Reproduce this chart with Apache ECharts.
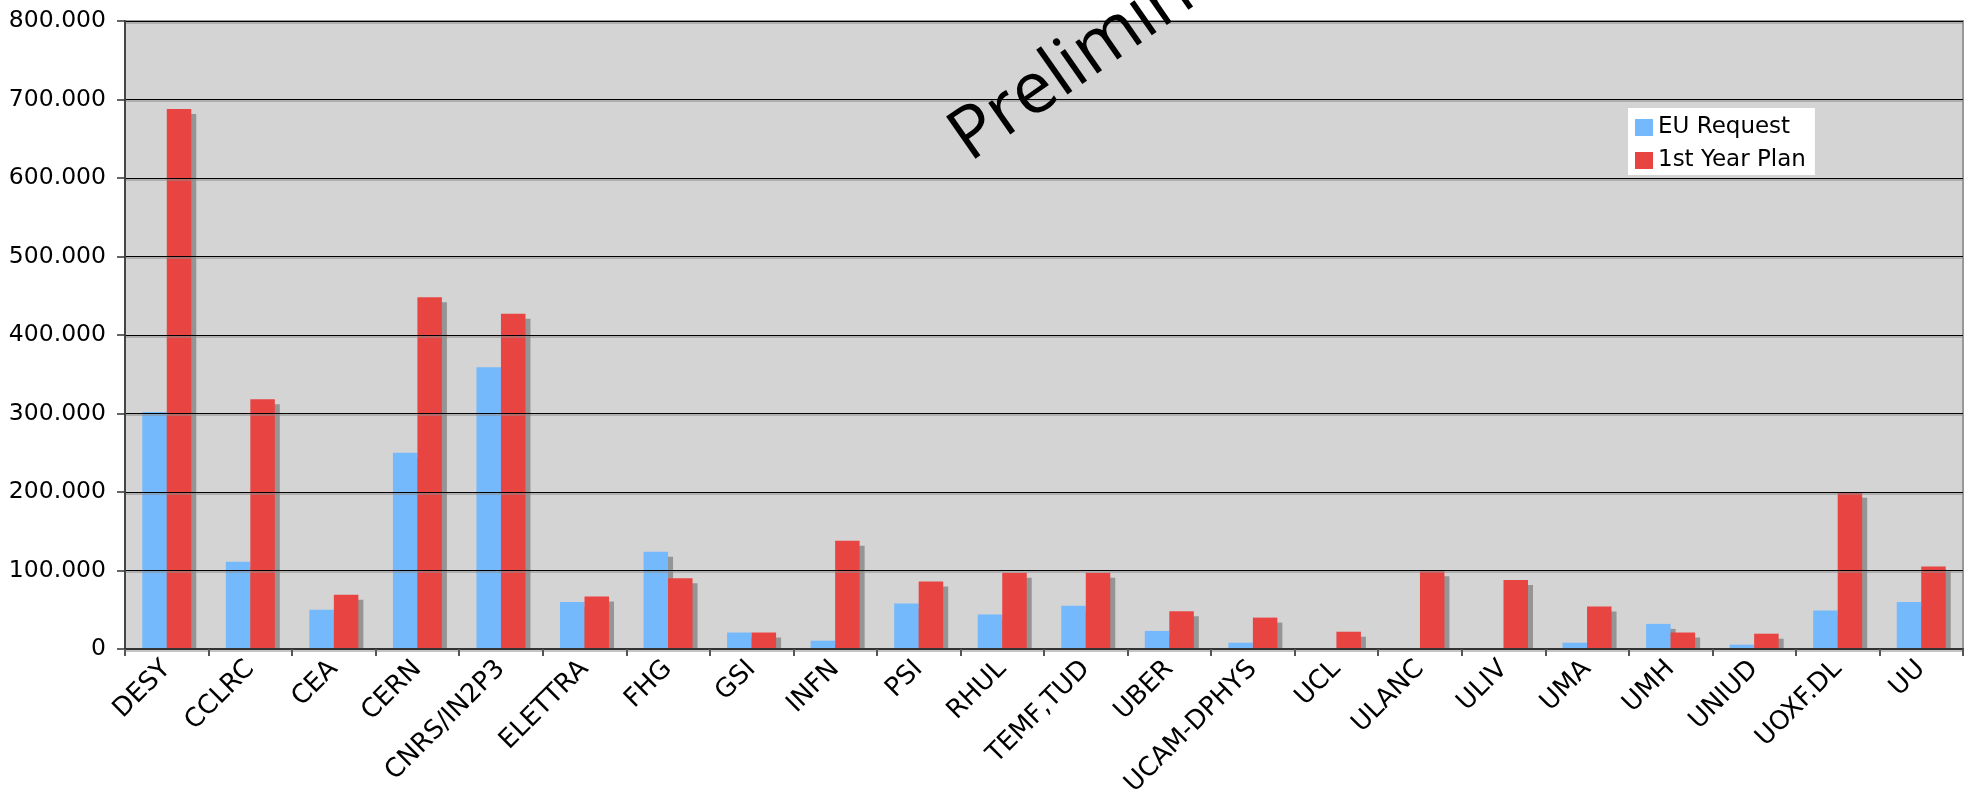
<!DOCTYPE html>
<html>
<head>
<meta charset="utf-8">
<script src="https://cdn.jsdelivr.net/npm/echarts@6/dist/echarts.min.js"></script>
<style>html,body{margin:0;padding:0;background:#fff;}#c{width:1974px;height:793px;}</style>
</head>
<body>
<div id="c"></div>
<script>
const categories = ['DESY','CCLRC','CEA','CERN','CNRS/IN2P3','ELETTRA','FHG','GSI','INFN','PSI','RHUL','TEMF,TUD','UBER','UCAM-DPHYS','UCL','ULANC','ULIV','UMA','UMH','UNIUD','UOXF.DL','UU'];
const euRequest = [302000,111000,50000,250000,359000,60000,124000,21000,10600,58000,44000,55000,23000,8000,0,1300,0,8000,32000,5500,49000,60000];
const firstYearPlan = [688000,318000,69000,448000,427000,67000,90000,21000,138000,86000,97000,97000,48000,40000,22000,99000,88000,54000,21000,19500,199000,105000];
const seriesNames = ['EU Request','1st Year Plan'];
const yTicks = {min:0, max:800000, interval:100000};

function fmt(v){
  if (v === 0) return '0';
  const s = String(Math.round(v));
  return s.replace(/\B(?=(\d{3})+(?!\d))/g, '.');
}

const chart = echarts.init(document.getElementById('c'), null, {renderer:'canvas'});
const font = 'DejaVu Sans';
const barStyle = (color) => ({
  color: color,
  shadowColor: '#959595',
  shadowBlur: 0,
  shadowOffsetX: 5,
  shadowOffsetY: 5
});
chart.setOption({
  animation: false,
  backgroundColor: '#ffffff',
  grid: {
    left: 125, right: 11, top: 21, bottom: 144,
    show: true, backgroundColor: '#d4d4d4', borderColor: '#999999', borderWidth: 2,
    containLabel: false,
    outerBoundsMode: 'none'
  },
  legend: {
    data: seriesNames,
    orient: 'vertical',
    left: 1628, top: 108,
    backgroundColor: '#ffffff',
    padding: [8, 9, 3, 7],
    itemWidth: 18, itemHeight: 17, itemGap: 10,
    icon: 'rect',
    itemStyle: {shadowBlur: 0, shadowOffsetX: 0, shadowOffsetY: 0, shadowColor: 'transparent'},
    textStyle: {fontFamily: font, fontSize: 23, color: '#000'}
  },
  xAxis: {
    type: 'category',
    data: categories,
    z: 4,
    axisLine: {show: true, lineStyle: {color: '#333333', width: 2}},
    axisTick: {show: true, alignWithLabel: false, length: 7, lineStyle: {color: '#555555', width: 2}},
    axisLabel: {interval: 0, rotate: 45, margin: 16, color: '#000', fontFamily: font, fontSize: 26},
    splitLine: {show: false}
  },
  yAxis: {
    type: 'value',
    min: yTicks.min, max: yTicks.max, interval: yTicks.interval,
    z: 4,
    axisLine: {show: true, lineStyle: {color: '#444444', width: 2}},
    axisTick: {show: true, length: 8, lineStyle: {color: '#333333', width: 1.5}},
    axisLabel: {margin: 19, color: '#000', fontFamily: font, fontSize: 23.5, formatter: fmt},
    splitLine: {show: true, lineStyle: {color: '#000000', width: 1.2, shadowColor: '#8a8a8a', shadowBlur: 0, shadowOffsetY: 1.5}}
  },
  series: [
    {name: seriesNames[0], type: 'bar', data: euRequest, barWidth: 24.5, barGap: '0%', z: 2, itemStyle: barStyle('#75b9fd')},
    {name: seriesNames[1], type: 'bar', data: firstYearPlan, barWidth: 24.5, barGap: '0%', z: 2, itemStyle: barStyle('#e84542')}
  ],
  graphic: [
    {type: 'rect', z: 3, shape: {x: 126, y: 650, width: 1838, height: 7}, style: {fill: '#ffffff'}, silent: true},
    {type: 'text', z: 5, x: 958, y: 146, rotation: 35 * Math.PI / 180,
     style: {text: 'Preliminary', font: '72px "Open Sans"', fill: '#000', align: 'left', verticalAlign: 'middle'}, silent: true}
  ]
});
</script>
</body>
</html>
